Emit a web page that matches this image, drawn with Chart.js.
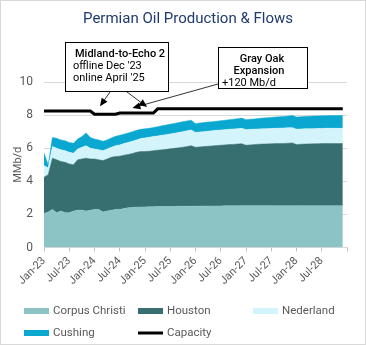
<!DOCTYPE html>
<html>
<head>
<meta charset="utf-8">
<script src="https://cdn.jsdelivr.net/npm/chart.js@4/dist/chart.umd.min.js"></script>
<style>
  html, body { margin: 0; padding: 0; background: #fff; }
  canvas { display: block; }
</style>
</head>
<body>
<canvas id="flows" width="366" height="345"></canvas>
<script>
// Monthly flows, Jan-23 .. Dec-28 (MMb/d)
const tickLabels = ['Jan-23', 'Jul-23', 'Jan-24', 'Jul-24', 'Jan-25', 'Jul-25',
                    'Jan-26', 'Jul-26', 'Jan-27', 'Jul-27', 'Jan-28', 'Jul-28'];

const corpusChristi = [
  2.05, 2.15, 2.3, 2.1, 2.2, 2.1, 2.1, 2.2, 2.25, 2.25, 2.2, 2.25,
  2.3, 2.3, 2.15, 2.2, 2.25, 2.3, 2.3, 2.35, 2.4, 2.42, 2.44, 2.45,
  2.45, 2.46, 2.46, 2.47, 2.47, 2.48, 2.48, 2.48, 2.49, 2.49, 2.49, 2.5,
  2.5, 2.5, 2.5, 2.51, 2.51, 2.51, 2.51, 2.52, 2.52, 2.52, 2.52, 2.52,
  2.53, 2.53, 2.53, 2.53, 2.53, 2.53, 2.53, 2.52, 2.52, 2.52, 2.52, 2.52,
  2.53, 2.52, 2.52, 2.52, 2.52, 2.52, 2.52, 2.52, 2.52, 2.52, 2.52, 2.52
];
const houston = [
  2.2, 2.25, 3.1, 3.2, 3.0, 3.05, 2.95, 2.8, 3.05, 3.1, 3.2, 3.1,
  3.05, 3.0, 3.1, 3.15, 3.2, 3.2, 3.22, 3.23, 3.22, 3.26, 3.31, 3.35,
  3.35, 3.36, 3.39, 3.41, 3.43, 3.45, 3.48, 3.51, 3.53, 3.57, 3.61, 3.65,
  3.55, 3.58, 3.6, 3.61, 3.63, 3.65, 3.67, 3.68, 3.7, 3.71, 3.73, 3.75,
  3.65, 3.67, 3.69, 3.71, 3.72, 3.73, 3.74, 3.76, 3.76, 3.77, 3.78, 3.8,
  3.69, 3.72, 3.73, 3.74, 3.75, 3.75, 3.76, 3.76, 3.76, 3.76, 3.76, 3.76
];
const nederland = [
  0.7, 0.4, 0.7, 0.7, 0.7, 0.7, 0.7, 0.7, 0.65, 0.7, 0.75, 0.65,
  0.6, 0.6, 0.6, 0.6, 0.6, 0.65, 0.68, 0.7, 0.73, 0.74, 0.75, 0.78,
  0.82, 0.84, 0.85, 0.86, 0.88, 0.89, 0.9, 0.91, 0.93, 0.94, 0.95, 0.95,
  0.9, 0.9, 0.9, 0.91, 0.91, 0.92, 0.92, 0.92, 0.92, 0.93, 0.93, 0.93,
  0.94, 0.94, 0.93, 0.92, 0.92, 0.92, 0.92, 0.92, 0.93, 0.93, 0.93, 0.92,
  0.93, 0.92, 0.92, 0.92, 0.91, 0.92, 0.91, 0.92, 0.92, 0.92, 0.92, 0.92
];
const cushing = [
  0.75, 0.2, 0.55, 0.6, 0.6, 0.6, 0.6, 0.6, 0.6, 0.65, 0.77, 0.65,
  0.6, 0.6, 0.57, 0.55, 0.57, 0.57, 0.58, 0.57, 0.57, 0.58, 0.58, 0.56,
  0.55, 0.54, 0.55, 0.56, 0.57, 0.58, 0.59, 0.6, 0.6, 0.6, 0.6, 0.59,
  0.53, 0.54, 0.55, 0.55, 0.55, 0.55, 0.56, 0.57, 0.58, 0.59, 0.6, 0.62,
  0.6, 0.61, 0.62, 0.64, 0.65, 0.66, 0.67, 0.68, 0.69, 0.7, 0.71, 0.73,
  0.73, 0.74, 0.75, 0.75, 0.76, 0.76, 0.77, 0.76, 0.77, 0.77, 0.77, 0.77
];
const capacity = [
  8.25, 8.25, 8.25, 8.25, 8.25, 8.25, 8.25, 8.25, 8.25, 8.25, 8.25, 8.25,
  8.05, 8.05, 8.05, 8.05, 8.05, 8.05, 8.13, 8.13, 8.13, 8.13, 8.13, 8.13,
  8.13, 8.13, 8.13, 8.38, 8.38, 8.38, 8.38, 8.38, 8.38, 8.38, 8.38, 8.38,
  8.38, 8.38, 8.38, 8.38, 8.38, 8.38, 8.38, 8.38, 8.38, 8.38, 8.38, 8.38,
  8.38, 8.38, 8.38, 8.38, 8.38, 8.38, 8.38, 8.38, 8.38, 8.38, 8.38, 8.38,
  8.38, 8.38, 8.38, 8.38, 8.38, 8.38, 8.38, 8.38, 8.38, 8.38, 8.38, 8.38
];

const colors = {
  cc: '#8CC4C5',
  houston: '#376F70',
  nederland: '#D3F4FA',
  cushing: '#0AA8D0',
  capacity: '#000000'
};

const FONT = 'Roboto, "Liberation Sans", sans-serif';
const GREY = '#595959';

// month index -> point
function points(arr) {
  return arr.map((v, i) => ({ x: i, y: v }));
}

function area(label, arr, color, fill) {
  return {
    label,
    data: points(arr),
    backgroundColor: color,
    borderColor: color,
    borderWidth: 0.5,
    pointRadius: 0,
    fill,
    stack: 'flows',
    tension: 0,
    order: 1
  };
}

function arrow(ctx, x1, y1, x2, y2) {
  const a = Math.atan2(y2 - y1, x2 - x1);
  const len = 8, half = 3.5;
  ctx.beginPath();
  ctx.moveTo(x1, y1);
  ctx.lineTo(x2 - Math.cos(a) * len * 0.8, y2 - Math.sin(a) * len * 0.8);
  ctx.stroke();
  ctx.beginPath();
  ctx.moveTo(x2, y2);
  ctx.lineTo(x2 - Math.cos(a) * len + Math.sin(a) * half, y2 - Math.sin(a) * len - Math.cos(a) * half);
  ctx.lineTo(x2 - Math.cos(a) * len - Math.sin(a) * half, y2 - Math.sin(a) * len + Math.cos(a) * half);
  ctx.closePath();
  ctx.fill();
}

// title, callout boxes, legend and frame
const decorations = {
  id: 'decorations',
  afterDraw(chart) {
    const ctx = chart.ctx;
    const xs = chart.scales.x, ys = chart.scales.y;
    ctx.save();

    ctx.fillStyle = '#1F3A6E';
    ctx.font = '15px ' + FONT;
    ctx.textAlign = 'center';
    ctx.textBaseline = 'middle';
    ctx.fillText('Permian Oil Production & Flows', 188, 19);

    // arrows pointing at the capacity line
    ctx.strokeStyle = '#000';
    ctx.fillStyle = '#000';
    ctx.lineWidth = 0.8;
    const tip = (m, off) => [xs.getPixelForValue(m), ys.getPixelForValue(capacity[Math.round(m)]) - off];
    let t = tip(13.3, 8);
    arrow(ctx, 110, 92, t[0], t[1]);
    t = tip(24.5, 6);
    arrow(ctx, 127, 92, t[0], t[1]);
    t = tip(21, 5);
    arrow(ctx, 218, 84, t[0], t[1]);

    // callout boxes
    ctx.lineWidth = 1;
    ctx.fillStyle = '#fff';
    ctx.fillRect(65, 42, 103, 49);
    ctx.strokeRect(65.5, 42.5, 103, 49);
    ctx.fillRect(218, 47, 89, 41);
    ctx.strokeRect(218.5, 47.5, 89, 41);

    ctx.fillStyle = '#000';
    ctx.textAlign = 'left';
    ctx.font = '500 11px ' + FONT;
    ctx.fillText('Midland-to-Echo 2', 75, 54);
    ctx.font = '11px ' + FONT;
    ctx.fillText("offline Dec '23", 73, 66);
    ctx.fillText("online April '25", 73, 78);

    ctx.textAlign = 'center';
    ctx.font = '500 11px ' + FONT;
    ctx.fillText('Gray Oak', 262, 59);
    ctx.fillText('Expansion', 259, 71);
    ctx.textAlign = 'left';
    ctx.font = '11px ' + FONT;
    ctx.fillText('+120 Mb/d', 222, 83);

    // legend in a three-column grid
    const items = [
      ['Corpus Christi', colors.cc, 24, 311],
      ['Houston', colors.houston, 138, 311],
      ['Nederland', colors.nederland, 253, 311],
      ['Cushing', colors.cushing, 24, 333],
      ['Capacity', colors.capacity, 138, 333, true]
    ];
    ctx.font = '11.5px ' + FONT;
    ctx.textBaseline = 'middle';
    items.forEach(([label, color, x, y, isLine]) => {
      ctx.fillStyle = color;
      if (isLine) {
        ctx.strokeStyle = color;
        ctx.lineWidth = 3;
        ctx.beginPath();
        ctx.moveTo(x, y);
        ctx.lineTo(x + 25, y);
        ctx.stroke();
      } else {
        ctx.fillRect(x, y - 3, 25, 6);
      }
      ctx.fillStyle = GREY;
      ctx.fillText(label, x + 29, y);
    });

    ctx.strokeStyle = '#D9D9D9';
    ctx.lineWidth = 1;
    ctx.strokeRect(0.5, 0.5, chart.width - 1, chart.height - 1);
    ctx.restore();
  }
};

new Chart(document.getElementById('flows'), {
  type: 'line',
  data: {
    datasets: [
      area('Corpus Christi', corpusChristi, colors.cc, 'origin'),
      area('Houston', houston, colors.houston, '-1'),
      area('Nederland', nederland, colors.nederland, '-1'),
      area('Cushing', cushing, colors.cushing, '-1'),
      {
        label: 'Capacity',
        data: points(capacity),
        borderColor: colors.capacity,
        borderWidth: 3,
        pointRadius: 0,
        fill: false,
        stack: 'capacity',
        tension: 0,
        order: 0
      }
    ]
  },
  options: {
    responsive: false,
    animation: false,
    layout: { padding: { left: 0, right: 19, top: 82, bottom: 47.5 } },
    plugins: {
      legend: { display: false },
      tooltip: { enabled: false }
    },
    scales: {
      x: {
        type: 'linear',
        min: 0,
        max: 72,
        afterFit: s => { s.height = 50; },
        ticks: {
          stepSize: 6,
          autoSkip: false,
          maxRotation: 45,
          minRotation: 45,
          padding: 3,
          color: GREY,
          font: { family: FONT, size: 11 },
          callback: v => tickLabels[v / 6] || ''
        },
        grid: { drawOnChartArea: false, tickLength: 4, color: '#BFBFBF' },
        border: { color: '#D9D9D9' }
      },
      y: {
        stacked: true,
        min: 0,
        max: 10,
        afterFit: s => { s.width = 44; },
        ticks: {
          stepSize: 2,
          padding: 11,
          color: GREY,
          font: { family: FONT, size: 12 }
        },
        grid: { color: '#D9D9D9', drawTicks: false },
        border: { display: false },
        title: {
          display: true,
          text: 'MMb/d',
          color: GREY,
          font: { family: FONT, size: 11 },
          padding: { top: 12, bottom: 0 }
        }
      }
    }
  },
  plugins: [decorations]
});
</script>
</body>
</html>
